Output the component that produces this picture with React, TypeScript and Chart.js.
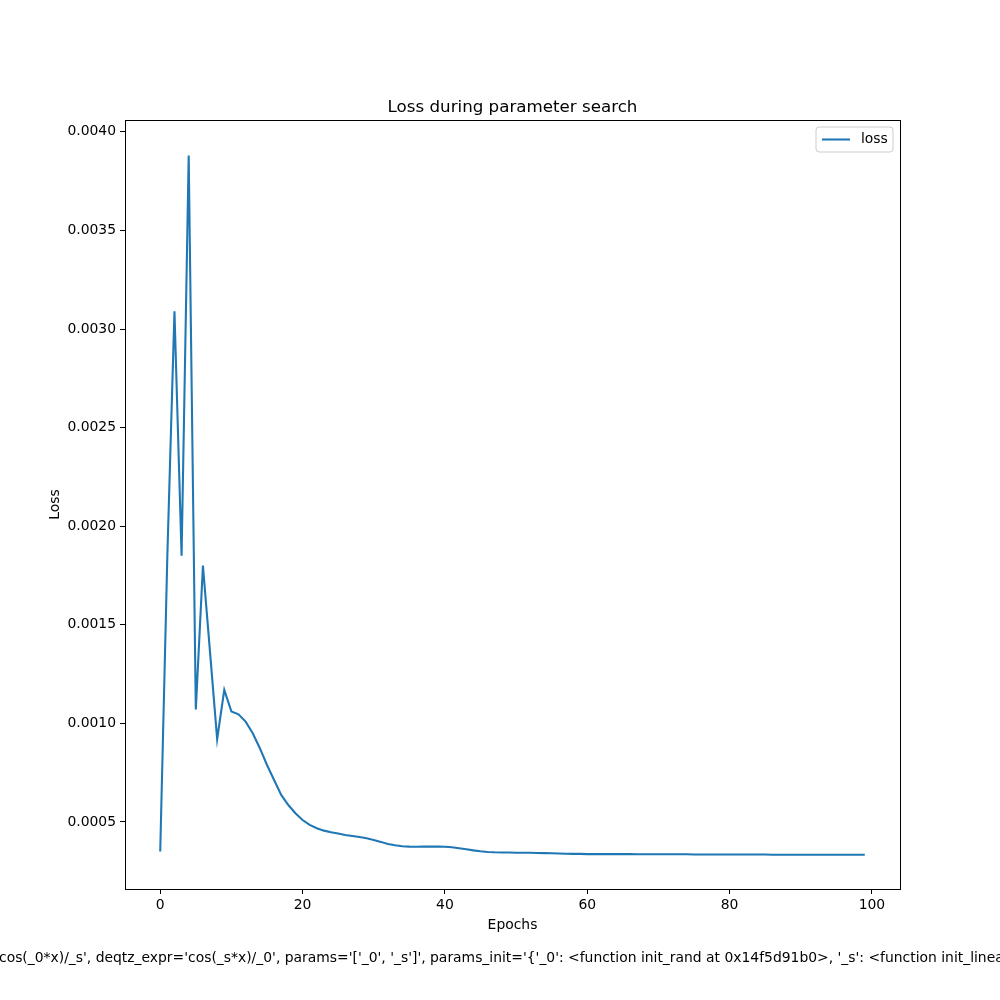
import React, { useEffect, useRef } from "react";
import { Chart, registerables } from "chart.js";

Chart.register(...registerables);

const epochs: number[] = Array.from({ length: 100 }, (_, i) => i);

const lossValues: number[] = [
  0.00035, 0.00185, 0.00309, 0.00185, 0.00388, 0.00107, 0.0018, 0.00136, 0.00092, 0.00117,
  0.00106, 0.001046, 0.001009, 0.00095, 0.000874, 0.000789, 0.000713, 0.000637, 0.000586, 0.000544,
  0.00051, 0.000485, 0.000468, 0.000456, 0.000448, 0.000441, 0.000434, 0.000429, 0.000424, 0.000417,
  0.000409, 0.000399, 0.000388, 0.000382, 0.000377, 0.000375, 0.000374, 0.000375, 0.000375, 0.000375,
  0.000374, 0.000372, 0.000367, 0.000362, 0.000356, 0.000351, 0.000348, 0.000346, 0.000345, 0.000345,
  0.000344, 0.000344, 0.000344, 0.000343, 0.000342, 0.000341, 0.00034, 0.000339, 0.000338, 0.000338,
  0.000337, 0.000337, 0.000337, 0.000337, 0.000337, 0.000337, 0.000337, 0.000336, 0.000336, 0.000336,
  0.000336, 0.000336, 0.000336, 0.000336, 0.000336, 0.000335, 0.000335, 0.000335, 0.000335, 0.000335,
  0.000335, 0.000335, 0.000335, 0.000335, 0.000335, 0.000335, 0.000334, 0.000334, 0.000334, 0.000334,
  0.000334, 0.000334, 0.000334, 0.000334, 0.000334, 0.000334, 0.000334, 0.000334, 0.000334, 0.000334,
];

const xTicks: number[] = [0, 20, 40, 60, 80, 100];
const yTicks: number[] = [0.0005, 0.001, 0.0015, 0.002, 0.0025, 0.003, 0.0035, 0.004];

const titleText = "Loss during parameter search";
const xLabel = "Epochs";
const yLabel = "Loss";
const seriesName = "loss";
const footerText =
  "cos(_0*x)/_s', deqtz_expr='cos(_s*x)/_0', params='['_0', '_s']', params_init='{'_0': <function init_rand at 0x14f5d91b0>, '_s': <function init_linear at 0x14f5d9240>}'";

const FONT = "'DejaVu Sans', sans-serif";
const LINE_COLOR = "#1f77b4";

export default function App() {
  const ref = useRef<HTMLCanvasElement | null>(null);

  useEffect(() => {
    if (!ref.current) return;

    const decor = {
      id: "decor",
      afterDraw(chart: any) {
        const ctx = chart.ctx;
        const a = chart.chartArea;
        ctx.save();
        // spines
        ctx.strokeStyle = "#000";
        ctx.lineWidth = 1;
        ctx.strokeRect(Math.round(a.left) + 0.5, Math.round(a.top) + 0.5, Math.round(a.right - a.left), Math.round(a.bottom - a.top));
        // title
        ctx.fillStyle = "#000";
        ctx.font = `16.7px ${FONT}`;
        ctx.textAlign = "center";
        ctx.textBaseline = "alphabetic";
        ctx.fillText(titleText, (a.left + a.right) / 2, 112);
        // x label
        ctx.font = `13.9px ${FONT}`;
        ctx.textBaseline = "middle";
        ctx.fillText(xLabel, (a.left + a.right) / 2, 925);
        // y label
        ctx.save();
        ctx.translate(55, (a.top + a.bottom) / 2);
        ctx.rotate(-Math.PI / 2);
        ctx.fillText(yLabel, 0, 0);
        ctx.restore();
        // footer
        ctx.textAlign = "left";
        ctx.fillText(footerText, -1, 958);
        // legend
        const lx = 816, ly = 127, lw = 77, lh = 25, r = 3;
        ctx.beginPath();
        ctx.moveTo(lx + r, ly);
        ctx.lineTo(lx + lw - r, ly);
        ctx.arcTo(lx + lw, ly, lx + lw, ly + r, r);
        ctx.lineTo(lx + lw, ly + lh - r);
        ctx.arcTo(lx + lw, ly + lh, lx + lw - r, ly + lh, r);
        ctx.lineTo(lx + r, ly + lh);
        ctx.arcTo(lx, ly + lh, lx, ly + lh - r, r);
        ctx.lineTo(lx, ly + r);
        ctx.arcTo(lx, ly, lx + r, ly, r);
        ctx.closePath();
        ctx.fillStyle = "rgba(255,255,255,0.8)";
        ctx.fill();
        ctx.strokeStyle = "#cccccc";
        ctx.lineWidth = 1;
        ctx.stroke();
        ctx.beginPath();
        ctx.moveTo(822, 139.5);
        ctx.lineTo(850, 139.5);
        ctx.strokeStyle = LINE_COLOR;
        ctx.lineWidth = 2.08;
        ctx.stroke();
        ctx.fillStyle = "#000";
        ctx.font = `13.9px ${FONT}`;
        ctx.textAlign = "left";
        ctx.textBaseline = "middle";
        ctx.fillText(seriesName, 861, 139.5);
        ctx.restore();
      },
    };

    const chart = new Chart(ref.current, {
      type: "line",
      data: {
        labels: epochs,
        datasets: [
          {
            label: seriesName,
            data: epochs.map((e, i) => ({ x: e, y: lossValues[i] })),
            borderColor: LINE_COLOR,
            borderWidth: 2.08,
            pointRadius: 0,
            tension: 0,
            fill: false,
          },
        ],
      },
      options: {
        animation: false,
        responsive: false,
        devicePixelRatio: 1,
        layout: { padding: { top: 120, right: 100, bottom: 0, left: 0 } },
        plugins: { legend: { display: false }, title: { display: false }, tooltip: { enabled: false } },
        scales: {
          x: {
            type: "linear",
            min: -4.95,
            max: 103.95,
            afterBuildTicks: (s: any) => {
              s.ticks = xTicks.map((v) => ({ value: v }));
            },
            afterFit: (s: any) => {
              s.height = 111;
            },
            grid: { drawOnChartArea: false, drawTicks: true, tickLength: 5, color: "#000" },
            border: { display: true, color: "#000" },
            ticks: {
              color: "#000",
              font: { family: FONT, size: 13.9 },
              padding: 3,
              maxRotation: 0,
              autoSkip: false,
              callback: (v: any) => String(v),
            },
          },
          y: {
            type: "linear",
            min: 0.00016,
            max: 0.00406,
            afterBuildTicks: (s: any) => {
              s.ticks = yTicks.map((v) => ({ value: v }));
            },
            afterFit: (s: any) => {
              s.width = 125;
            },
            grid: { drawOnChartArea: false, drawTicks: true, tickLength: 5, color: "#000" },
            border: { display: true, color: "#000" },
            ticks: {
              color: "#000",
              font: { family: FONT, size: 13.9 },
              padding: 4,
              autoSkip: false,
              callback: (v: any) => Number(v).toFixed(4),
            },
          },
        },
      },
      plugins: [decor],
    });

    return () => chart.destroy();
  }, []);

  return (
    <div style={{ position: "absolute", left: 0, top: 0, width: 1000, height: 1000, background: "#fff" }}>
      <canvas ref={ref} width={1000} height={1000} style={{ width: 1000, height: 1000 }} />
    </div>
  );
}
